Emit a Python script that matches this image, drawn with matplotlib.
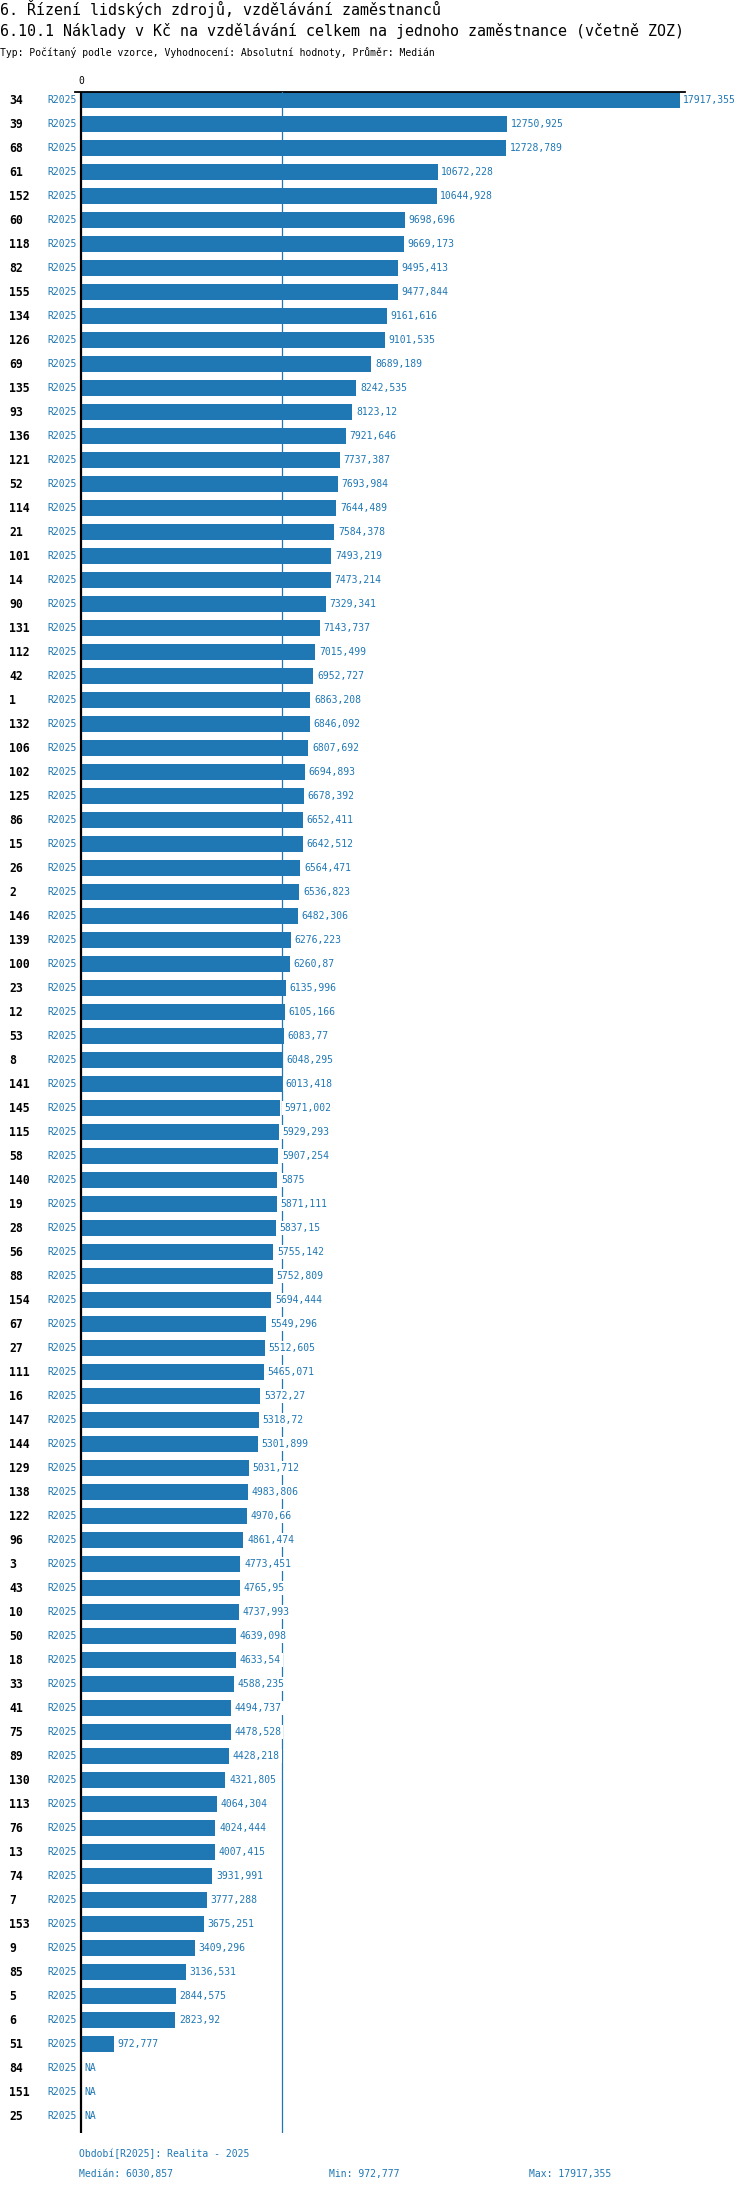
import numpy as np
import matplotlib
matplotlib.use("Agg")
import matplotlib.pyplot as plt
import matplotlib.transforms as mtransforms

plt.rcParams['font.family'] = ['DejaVu Sans Mono']

# data
ids = ["34", "39", "68", "61", "152", "60", "118", "82", "155", "134", "126", "69",
       "135", "93", "136", "121", "52", "114", "21", "101", "14", "90", "131", "112",
       "42", "1", "132", "106", "102", "125", "86", "15", "26", "2", "146", "139",
       "100", "23", "12", "53", "8", "141", "145", "115", "58", "140", "19", "28",
       "56", "88", "154", "67", "27", "111", "16", "147", "144", "129", "138", "122",
       "96", "3", "43", "10", "50", "18", "33", "41", "75", "89", "130", "113",
       "76", "13", "74", "7", "153", "9", "85", "5", "6", "51", "84", "151", "25"]
values = [17917.355, 12750.925, 12728.789, 10672.228, 10644.928, 9698.696, 9669.173,
          9495.413, 9477.844, 9161.616, 9101.535, 8689.189, 8242.535, 8123.12,
          7921.646, 7737.387, 7693.984, 7644.489, 7584.378, 7493.219, 7473.214,
          7329.341, 7143.737, 7015.499, 6952.727, 6863.208, 6846.092, 6807.692,
          6694.893, 6678.392, 6652.411, 6642.512, 6564.471, 6536.823, 6482.306,
          6276.223, 6260.87, 6135.996, 6105.166, 6083.77, 6048.295, 6013.418,
          5971.002, 5929.293, 5907.254, 5875, 5871.111, 5837.15, 5755.142, 5752.809,
          5694.444, 5549.296, 5512.605, 5465.071, 5372.27, 5318.72, 5301.899,
          5031.712, 4983.806, 4970.66, 4861.474, 4773.451, 4765.95, 4737.993,
          4639.098, 4633.54, 4588.235, 4494.737, 4478.528, 4428.218, 4321.805,
          4064.304, 4024.444, 4007.415, 3931.991, 3777.288, 3675.251, 3409.296,
          3136.531, 2844.575, 2823.92, 972.777, None, None, None]
period = "R2025"
median_val = 6030.857
min_val = 972.777
max_val = 17917.355

title1 = "6. Řízení lidských zdrojů, vzdělávání zaměstnanců"
title2 = "6.10.1 Náklady v Kč na vzdělávání celkem na jednoho zaměstnance (včetně ZOZ)"
subtitle = "Typ: Počítaný podle vzorce, Vyhodnocení: Absolutní hodnoty, Průměr: Medián"


def fmt(v):
    s = ("%.3f" % v).rstrip("0").rstrip(".")
    return s.replace(".", ",")


W, H = 750, 2192
BLUE = "#1f77b4"
fig = plt.figure(figsize=(W / 100, H / 100), dpi=100)


def fx(x):
    return x / W


def fy(y):
    return 1 - y / H


# axes box in pixels
ax_left, ax_right, ax_top, ax_bot = 75, 685, 92, 2133
ax = fig.add_axes([fx(ax_left), fy(ax_bot), fx(ax_right - ax_left), (ax_bot - ax_top) / H])

scale = 0.03341  # px per unit
zero_px = 81
ax.set_xlim(-(zero_px - ax_left) / scale, (ax_right - zero_px) / scale)
row_px, first_px = 24, 100
ax.set_ylim((ax_bot - first_px) / row_px, -(first_px - ax_top) / row_px)

n = len(ids)
pos = np.arange(n)
vals = np.array([np.nan if v is None else v for v in values])
ax.barh(pos, np.nan_to_num(vals), height=16 / 24, color=BLUE, zorder=2)

ax.axvline(median_val, color=BLUE, lw=0.9, zorder=3)
ax.axvline(0, color="black", lw=1.6, zorder=5)

for s in ["left", "right", "bottom"]:
    ax.spines[s].set_visible(False)
ax.spines["top"].set_linewidth(1.3)
ax.set_xticks([])
ax.set_yticks([])

for i, v in enumerate(values):
    x = 0 if v is None else v
    lab = "NA" if v is None else fmt(v)
    ax.annotate(lab, (x, i), xytext=(2.6, 0), textcoords="offset points",
                ha="left", va="center", fontsize=7, color=BLUE, zorder=4,
                bbox=dict(facecolor="white", edgecolor="none", pad=1.5))

trans = mtransforms.blended_transform_factory(fig.transFigure, ax.transData)
for i, name in enumerate(ids):
    ax.text(fx(9), i, name, transform=trans, ha="left", va="center",
            fontsize=8.3, fontweight="bold", color="black")
    ax.text(fx(77), i, period, transform=trans, ha="right", va="center",
            fontsize=7, color=BLUE)

fig.text(fx(81), fy(81), "0", ha="center", va="center", fontsize=7, color="black")

fig.text(fx(0), fy(8.5), title1, ha="left", va="center", fontsize=10.8, color="black")
fig.text(fx(0), fy(31), title2, ha="left", va="center", fontsize=10.8, color="black")
fig.text(fx(0), fy(52), subtitle, ha="left", va="center", fontsize=7, color="black")

fig.text(fx(79), fy(2154), "Období[R2025]: Realita - 2025", ha="left", va="center",
         fontsize=7, color=BLUE)
fig.text(fx(79), fy(2174), "Medián: " + fmt(median_val), ha="left", va="center",
         fontsize=7, color=BLUE)
fig.text(fx(329), fy(2174), "Min: " + fmt(min_val), ha="left", va="center",
         fontsize=7, color=BLUE)
fig.text(fx(529), fy(2174), "Max: " + fmt(max_val), ha="left", va="center",
         fontsize=7, color=BLUE)

fig.savefig("out.png", dpi=100)
